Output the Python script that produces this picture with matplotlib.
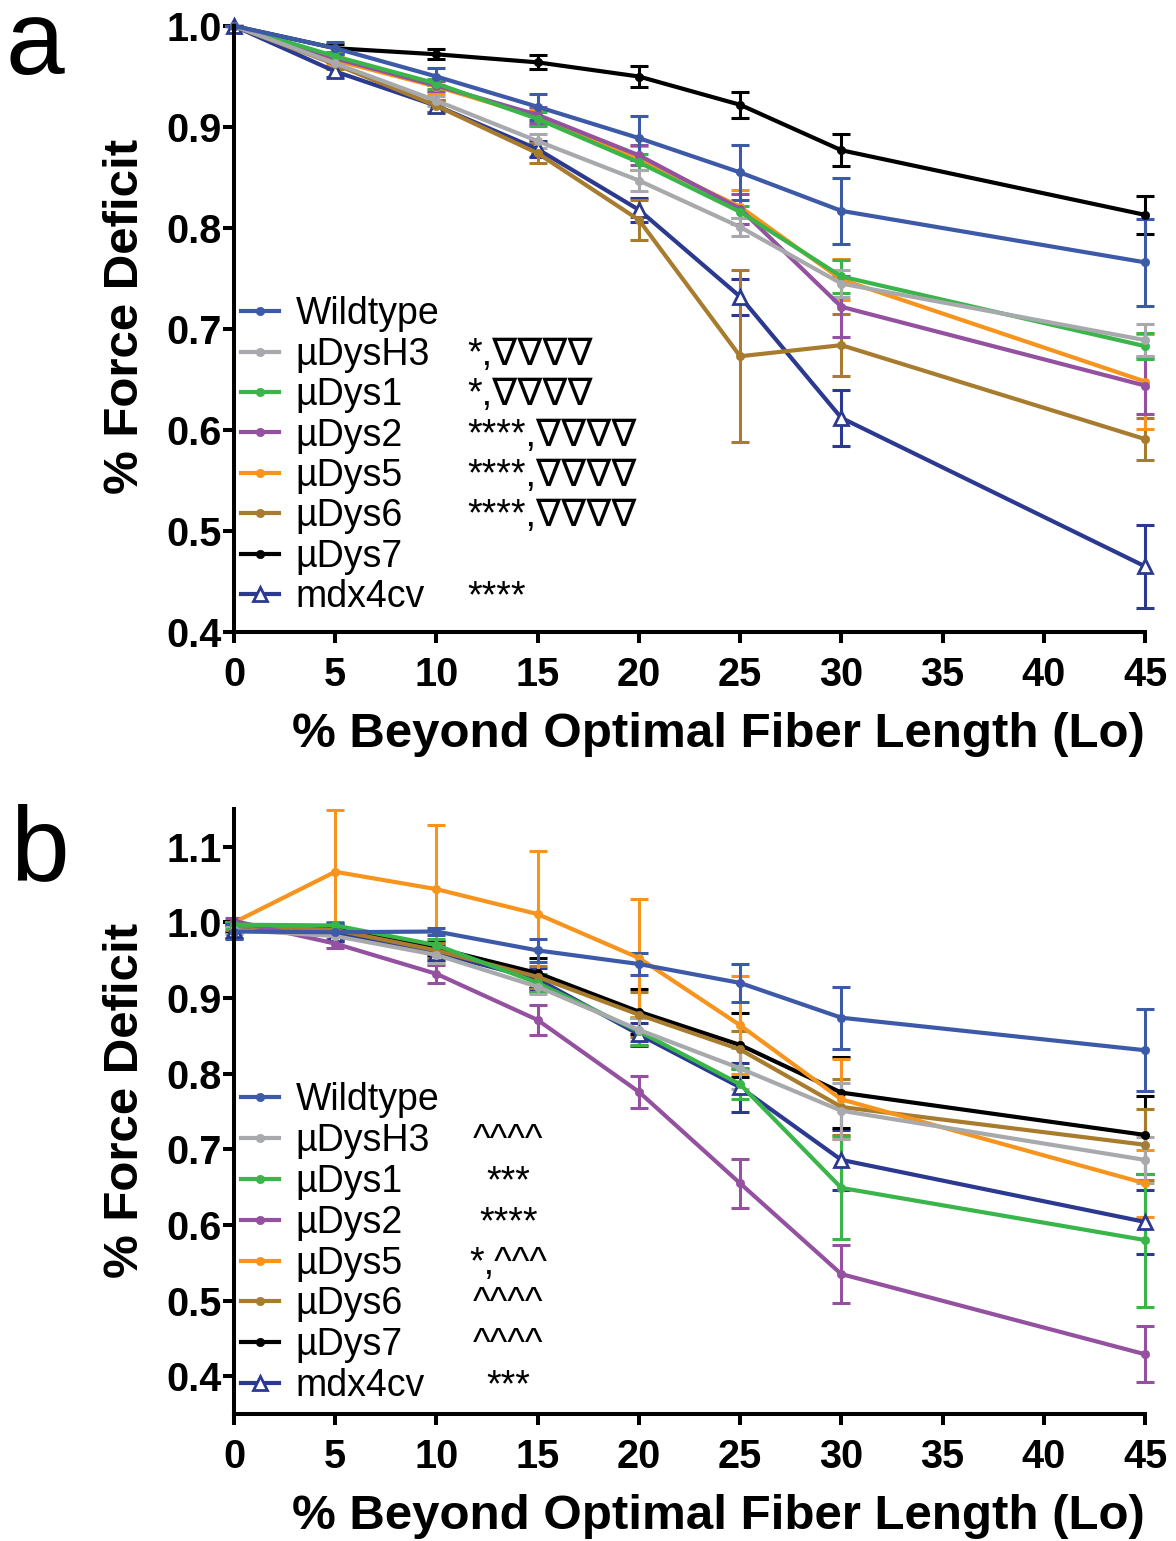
import matplotlib
matplotlib.use("Agg")
import matplotlib.pyplot as plt
from matplotlib.lines import Line2D

plt.rcParams['font.family'] = ['Liberation Sans', 'DejaVu Sans']

# x positions (% beyond Lo)
stretch = [0, 5, 10, 15, 20, 25, 30, 45]

groups = ['Wildtype', 'µDysH3', 'µDys1', 'µDys2', 'µDys5', 'µDys6', 'µDys7', 'mdx4cv']
colors = ['#3d5aa8', '#a7a9ac', '#39b54a', '#9351a0', '#f7941d', '#a87c2f', '#000000', '#2b3990']

# panel a - means
a_wildtype = [1.0, 0.978, 0.950, 0.920, 0.889, 0.855, 0.817, 0.766]
a_dysh3 = [1.0, 0.963, 0.926, 0.886, 0.847, 0.801, 0.745, 0.689]
a_dys1 = [1.0, 0.970, 0.943, 0.908, 0.865, 0.816, 0.752, 0.683]
a_dys2 = [1.0, 0.968, 0.941, 0.912, 0.872, 0.819, 0.722, 0.644]
a_dys5 = [1.0, 0.966, 0.940, 0.910, 0.869, 0.821, 0.749, 0.648]
a_dys6 = [1.0, 0.962, 0.921, 0.874, 0.808, 0.673, 0.684, 0.591]
a_dys7 = [1.0, 0.978, 0.972, 0.964, 0.950, 0.922, 0.877, 0.813]
a_mdx = [1.0, 0.955, 0.921, 0.878, 0.818, 0.732, 0.612, 0.465]

# panel a - SEM
a_wildtype_err = [0, 0.006, 0.008, 0.013, 0.022, 0.027, 0.033, 0.043]
a_dysh3_err = [0, 0.004, 0.005, 0.007, 0.010, 0.009, 0.013, 0.016]
a_dys1_err = [0, 0.004, 0.005, 0.007, 0.008, 0.006, 0.016, 0.013]
a_dys2_err = [0, 0.004, 0.005, 0.008, 0.010, 0.015, 0.030, 0.028]
a_dys5_err = [0, 0.004, 0.006, 0.008, 0.012, 0.017, 0.020, 0.047]
a_dys6_err = [0, 0.005, 0.006, 0.010, 0.020, 0.085, 0.031, 0.021]
a_dys7_err = [0, 0.004, 0.005, 0.007, 0.010, 0.013, 0.016, 0.019]
a_mdx_err = [0, 0.005, 0.006, 0.008, 0.012, 0.018, 0.028, 0.041]

# panel b - means
b_wildtype = [0.988, 0.987, 0.988, 0.963, 0.945, 0.920, 0.874, 0.831]
b_dysh3 = [0.990, 0.982, 0.957, 0.915, 0.858, 0.807, 0.751, 0.686]
b_dys1 = [0.997, 0.996, 0.970, 0.920, 0.856, 0.786, 0.649, 0.580]
b_dys2 = [1.002, 0.972, 0.932, 0.871, 0.776, 0.655, 0.535, 0.429]
b_dys5 = [1.0, 1.067, 1.044, 1.011, 0.953, 0.864, 0.766, 0.655]
b_dys6 = [0.995, 0.990, 0.963, 0.928, 0.878, 0.832, 0.756, 0.706]
b_dys7 = [0.992, 0.991, 0.966, 0.933, 0.882, 0.838, 0.775, 0.719]
b_mdx = [0.990, 0.985, 0.960, 0.925, 0.852, 0.782, 0.686, 0.604]

# panel b - SEM
b_wildtype_err = [0.010, 0.012, 0.005, 0.015, 0.015, 0.025, 0.041, 0.054]
b_dysh3_err = [0.005, 0.008, 0.010, 0.010, 0.015, 0.027, 0.037, 0.030]
b_dys1_err = [0.004, 0.005, 0.008, 0.012, 0.018, 0.020, 0.068, 0.088]
b_dys2_err = [0.004, 0.006, 0.012, 0.020, 0.021, 0.032, 0.038, 0.037]
b_dys5_err = [0.0, 0.082, 0.085, 0.083, 0.078, 0.065, 0.053, 0.044]
b_dys6_err = [0.005, 0.006, 0.010, 0.015, 0.030, 0.025, 0.037, 0.047]
b_dys7_err = [0.005, 0.006, 0.010, 0.020, 0.030, 0.042, 0.047, 0.051]
b_mdx_err = [0.010, 0.008, 0.010, 0.015, 0.015, 0.032, 0.040, 0.042]

# significance marks next to legend
a_marks = ['', '*,∇∇∇∇', '*,∇∇∇∇', '****,∇∇∇∇', '****,∇∇∇∇', '****,∇∇∇∇', '', '****']
b_marks = ['', '^^^^', '***', '****', '*,^^^', '^^^^', '^^^^', '***']

a_means = [a_wildtype, a_dysh3, a_dys1, a_dys2, a_dys5, a_dys6, a_dys7, a_mdx]
a_errs = [a_wildtype_err, a_dysh3_err, a_dys1_err, a_dys2_err, a_dys5_err, a_dys6_err, a_dys7_err, a_mdx_err]
b_means = [b_wildtype, b_dysh3, b_dys1, b_dys2, b_dys5, b_dys6, b_dys7, b_mdx]
b_errs = [b_wildtype_err, b_dysh3_err, b_dys1_err, b_dys2_err, b_dys5_err, b_dys6_err, b_dys7_err, b_mdx_err]

W, H = 1176, 1541
fig = plt.figure(figsize=(W / 100, H / 100), dpi=100)

LW = 3.0
TICK_FS = 28.5
LABEL_FS = 35.5
LEG_FS = 27


def marker_style(i):
    if groups[i] == 'mdx4cv':
        return dict(marker='^', ms=9.5, mfc='white', mec=colors[i], mew=2.0)
    return dict(marker='o', ms=6, mfc=colors[i], mec=colors[i], mew=0.5)


def draw_panel(ax, means, errs, marks, ylim, yticks, leg_top, spacing, mark_x, mark_ha, ylab_y):
    # last groups first so Wildtype ends on top
    for i in reversed(range(len(groups))):
        cont = ax.errorbar(stretch, means[i], yerr=errs[i], color=colors[i], lw=LW,
                           elinewidth=2.2, capsize=6.5, capthick=2.2)
        cont.lines[0].set(**marker_style(i))
        for art in cont.get_children():
            art.set_clip_on(False)

    ax.set_xlim(0, 45)
    ax.set_ylim(*ylim)
    ax.set_xticks([0, 5, 10, 15, 20, 25, 30, 35, 40, 45])
    ax.set_yticks(yticks)
    ax.set_yticklabels(['%.1f' % t for t in yticks])
    for s in ['top', 'right']:
        ax.spines[s].set_visible(False)
    for s in ['left', 'bottom']:
        ax.spines[s].set_linewidth(2.9)
    ax.tick_params(axis='both', width=2.9, length=8, labelsize=TICK_FS)
    ax.tick_params(axis='x', pad=9)
    ax.tick_params(axis='y', pad=1)
    for lab in ax.get_xticklabels() + ax.get_yticklabels():
        lab.set_fontweight('bold')

    ax.set_xlabel('% Beyond Optimal Fiber Length (Lo)', fontsize=LABEL_FS,
                  fontweight='bold', loc='right', labelpad=13)
    ax.set_ylabel('% Force Deficit', fontsize=LABEL_FS, fontweight='bold')
    ax.yaxis.set_label_coords(-0.094, ylab_y)

    handles = [Line2D([0], [0], color=colors[i], lw=LW, **marker_style(i))
               for i in range(len(groups))]
    leg = ax.legend(handles, groups, loc='upper left', bbox_to_anchor=(0.008, leg_top),
                    frameon=False, fontsize=LEG_FS, handlelength=1.0, handletextpad=0.45,
                    labelspacing=spacing, borderpad=0, borderaxespad=0)

    # marks aligned to the legend rows
    fig.canvas.draw()
    inv = ax.transAxes.inverted()
    for txt, m in zip(leg.get_texts(), marks):
        if not m:
            continue
        bb = txt.get_window_extent()
        yc = inv.transform((0, (bb.y0 + bb.y1) / 2))[1]
        ax.text(mark_x, yc, m, transform=ax.transAxes, fontsize=LEG_FS,
                ha=mark_ha, va='center', family=['Liberation Sans', 'DejaVu Sans'])


left = 234 / W
width = (1145 - 234) / W

ax_a = fig.add_axes([left, 1 - 632 / H, width, (632 - 26) / H])
draw_panel(ax_a, a_means, a_errs, a_marks, (0.4, 1.0),
           [0.4, 0.5, 0.6, 0.7, 0.8, 0.9, 1.0], 0.554, 0.118, 0.256, 'left', 0.52)

ax_b = fig.add_axes([left, 1 - 1414 / H, width, (1414 - 809) / H])
draw_panel(ax_b, b_means, b_errs, b_marks, (0.35, 1.15),
           [0.4, 0.5, 0.6, 0.7, 0.8, 0.9, 1.0, 1.1], 0.548, 0.128, 0.301, 'center', 0.518)

fig.text(6 / W, 1 - 74 / H, 'a', fontsize=76, va='baseline', ha='left')
fig.text(10 / W, 1 - 880 / H, 'b', fontsize=76, va='baseline', ha='left')

fig.savefig('out.png', dpi=100)
